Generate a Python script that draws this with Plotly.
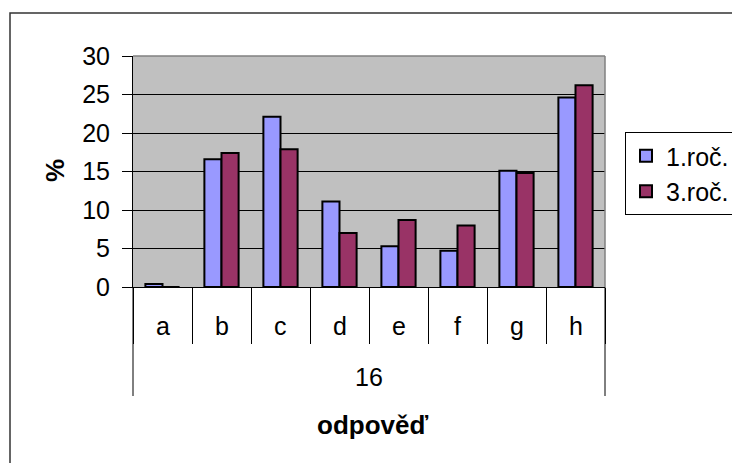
import plotly.graph_objects as go

categories = ["a", "b", "c", "d", "e", "f", "g", "h"]
group_label = "16"
series_names = ["1.roč.", "3.roč."]
values_1 = [0.4, 16.6, 22.1, 11.1, 5.3, 4.7, 15.1, 24.6]
values_3 = [0.0, 17.4, 17.9, 7.0, 8.7, 8.0, 14.8, 26.2]
y_ticks = [0, 5, 10, 15, 20, 25, 30]
colors = ["#9999FF", "#993366"]

FONT = "Liberation Sans, Arial, sans-serif"

fig = go.Figure()
for name, vals, col in zip(series_names, [values_1, values_3], colors):
    fig.add_trace(go.Bar(
        x=categories, y=vals, name=name, legendgroup=name,
        marker=dict(color=col, line=dict(color="black", width=2)),
    ))

# figure is slightly wider than the window so the legend box runs off the right edge
W, H = 770, 463
L, T, R, B = 133, 56, 605, 287
pw, ph = R - L, B - T

def px(x):
    return (x - L) / pw

def py(y):
    return (B - y) / ph

fig.update_layout(
    width=W, height=H,
    margin=dict(l=L, r=W - R, t=T, b=H - B, pad=0),
    paper_bgcolor="white", plot_bgcolor="#C0C0C0",
    barmode="group", bargap=0.42, bargroupgap=0,
    font=dict(family=FONT, size=24, color="black"),
    showlegend=True,
    legend=dict(x=px(625), y=py(132), xanchor="left", yanchor="top",
                bgcolor="white", bordercolor="black", borderwidth=1,
                font=dict(size=25), tracegroupgap=4, traceorder="normal",
                itemwidth=30),
    xaxis=dict(range=[-0.5, 7.5], showticklabels=False, ticks="outside",
               tickson="boundaries", ticklen=56, tickcolor="black", tickwidth=1,
               showline=True, linecolor="black", linewidth=1, showgrid=False,
               zeroline=False, fixedrange=True),
    yaxis=dict(range=[0, 30], tickvals=y_ticks, ticks="outside", ticklen=10,
               tickcolor="black", showline=True, linecolor="black", linewidth=1,
               showgrid=True, gridcolor="black", gridwidth=1, zeroline=False,
               tickfont=dict(size=25), ticklabelstandoff=7, fixedrange=True),
)

# category labels
for c in categories:
    fig.add_annotation(x=c, xref="x", y=py(326), yref="paper", text=c,
                       showarrow=False, font=dict(size=25), yanchor="middle")
fig.add_annotation(x=0.5, xref="paper", y=py(377), yref="paper", text=group_label,
                   showarrow=False, font=dict(size=25), yanchor="middle")
fig.add_annotation(x=px(372), xref="paper", y=py(425), yref="paper", text="<b>odpověď</b>",
                   showarrow=False, font=dict(size=26), yanchor="middle")
fig.add_annotation(x=px(55), xref="paper", y=py(171), yref="paper", text="<b>%</b>",
                   showarrow=False, textangle=-90, font=dict(size=26),
                   xanchor="center", yanchor="middle")

# outer group divider lines
for xd in [0, 1]:
    fig.add_shape(type="line", xref="x domain", yref="paper", x0=xd, x1=xd,
                  y0=0, y1=py(396), line=dict(color="black", width=1))
# plot area top/right border
fig.add_shape(type="line", xref="paper", yref="paper", x0=0, x1=1, y0=1, y1=1,
              line=dict(color="#808080", width=1.5))
fig.add_shape(type="line", xref="paper", yref="paper", x0=1, x1=1, y0=0, y1=1,
              line=dict(color="#808080", width=1.5))
# chart border
fig.add_shape(type="rect", xref="paper", yref="paper", x0=px(10), x1=px(W + 20),
              y0=py(H + 20), y1=py(13), line=dict(color="#333333", width=1.5),
              layer="below")

fig.write_html("out.html", config={"displayModeBar": False},
               post_script="document.body.style.margin='0';document.body.style.overflow='hidden';")
